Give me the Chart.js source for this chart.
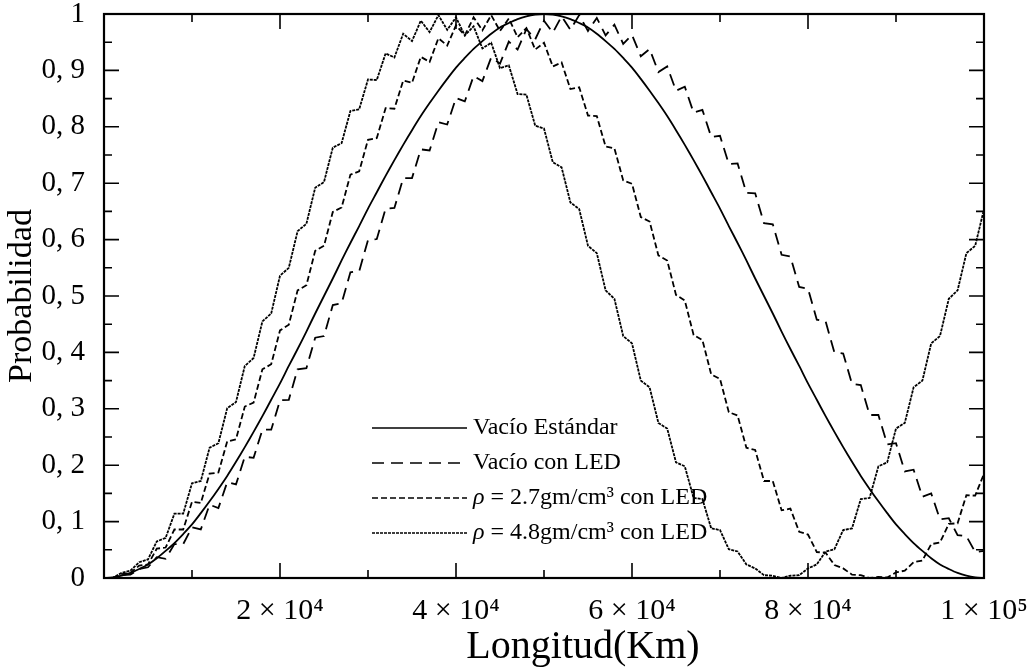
<!DOCTYPE html>
<html>
<head>
<meta charset="utf-8">
<script src="https://cdn.jsdelivr.net/npm/chart.js@4.4.1/dist/chart.umd.min.js"></script>
<style>
html,body{margin:0;padding:0;background:#fff;}
#wrap{width:1034px;height:671px;position:relative;}
</style>
</head>
<body>
<div id="wrap"><canvas id="c" width="1034" height="671"></canvas></div>
<script>
// Longitud (Km)
const xKm = [0,1000,2000,3000,4000,5000,6000,7000,8000,9000,
10000,11000,12000,13000,14000,15000,16000,17000,18000,19000,
20000,21000,22000,23000,24000,25000,26000,27000,28000,29000,
30000,31000,32000,33000,34000,35000,36000,37000,38000,39000,
40000,41000,42000,43000,44000,45000,46000,47000,48000,49000,
50000,51000,52000,53000,54000,55000,56000,57000,58000,59000,
60000,61000,62000,63000,64000,65000,66000,67000,68000,69000,
70000,71000,72000,73000,74000,75000,76000,77000,78000,79000,
80000,81000,82000,83000,84000,85000,86000,87000,88000,89000,
90000,91000,92000,93000,94000,95000,96000,97000,98000,99000,100000];

const vacioEstandar = [0,.001,.004,.009,.016,.024,.035,.048,.062,.078,
.095,.115,.136,.158,.181,.206,.232,.259,.287,.316,
.345,.376,.406,.437,.469,.500,.531,.563,.594,.624,
.655,.684,.713,.741,.768,.794,.819,.842,.864,.885,
.905,.922,.938,.952,.965,.976,.984,.991,.996,.999,
1,.999,.996,.991,.984,.976,.965,.952,.938,.922,
.905,.885,.864,.842,.819,.794,.768,.741,.713,.684,
.655,.624,.594,.563,.531,.500,.469,.437,.406,.376,
.345,.316,.287,.259,.232,.206,.181,.158,.136,.115,
.095,.078,.062,.048,.035,.024,.016,.009,.004,.001,0];

const vacioLED = [0,0,.005,.006,.016,.019,.037,.034,.060,.060,
.090,.086,.130,.124,.170,.166,.215,.213,.263,.263,
.315,.316,.370,.372,.426,.429,.484,.487,.542,.544,
.599,.601,.655,.656,.709,.709,.760,.758,.808,.804,
.851,.845,.890,.881,.923,.912,.951,.937,.973,.955,
.988,.967,.996,.972,.998,.970,.993,.962,.981,.947,
.963,.925,.938,.897,.907,.864,.871,.825,.830,.782,
.784,.734,.735,.683,.682,.629,.627,.573,.570,.516,
.513,.458,.455,.400,.398,.344,.342,.289,.289,.237,
.239,.189,.192,.144,.150,.104,.106,.076,.074,.046,.048];

const rho27LED = [0,0,.007,.009,.022,.024,.052,.054,.086,.086,
.135,.133,.185,.187,.242,.246,.304,.311,.370,.379,
.439,.449,.510,.519,.580,.589,.649,.657,.715,.721,
.777,.780,.833,.832,.882,.878,.924,.915,.957,.944,
.980,.962,.994,.971,.998,.970,.992,.959,.975,.937,
.949,.907,.914,.867,.870,.820,.819,.765,.762,.705,
.699,.640,.632,.572,.563,.502,.492,.431,.422,.361,
.353,.294,.288,.231,.227,.172,.172,.120,.123,.082,
.077,.046,.045,.023,.017,.006,.005,0,.002,.001,
.010,.013,.028,.031,.060,.063,.096,.097,.147,.146,.185];

const rho48LED = [0,0,.009,.013,.028,.033,.065,.071,.114,.114,
.168,.172,.231,.239,.301,.312,.376,.390,.455,.469,
.536,.550,.615,.628,.692,.702,.763,.771,.828,.831,
.884,.883,.930,.923,.965,.952,.988,.968,.998,.972,
.994,.962,.978,.939,.949,.904,.909,.858,.857,.802,
.797,.737,.728,.666,.654,.589,.576,.510,.495,.429,
.416,.350,.338,.275,.265,.205,.198,.142,.140,.088,
.085,.051,.047,.024,.017,.005,.004,0,.004,.005,
.017,.024,.047,.051,.085,.088,.140,.142,.198,.205,
.265,.275,.338,.350,.416,.429,.495,.510,.576,.589,.654];

const seriesNames = ['Vacío Estándar','Vacío con LED','ρ = 2.7gm/cm³ con LED','ρ = 4.8gm/cm³ con LED'];
const yTickLabels = ['0','0, 1','0, 2','0, 3','0, 4','0, 5','0, 6','0, 7','0, 8','0, 9','1'];
const xTickLabels = ['','2 × 10⁴','4 × 10⁴','6 × 10⁴','8 × 10⁴','1 × 10⁵'];
const xTitle = 'Longitud(Km)';
const yTitle = 'Probabilidad';

const FONT = '"Liberation Serif", "DejaVu Serif", serif';
const pts = arr => arr.map((v,i)=>({x:xKm[i], y:v}));

const frameTicks = {
  id:'frameTicks',
  afterDraw(chart){
    const {ctx, chartArea:a, scales:{x,y}} = chart;
    ctx.save();
    ctx.strokeStyle = '#000';
    ctx.lineWidth = 1.6;
    ctx.beginPath();
    for (let k=0;k<=20;k++){
      const v = k*0.05, py = y.getPixelForValue(v);
      const len = (k%2===0)?15:8;
      ctx.moveTo(a.left,py); ctx.lineTo(a.left+len,py);
      ctx.moveTo(a.right,py); ctx.lineTo(a.right-len,py);
    }
    for (let k=0;k<=10;k++){
      const v = k*10000, px = x.getPixelForValue(v);
      const len = (k%2===0)?15:8;
      ctx.moveTo(px,a.bottom); ctx.lineTo(px,a.bottom-len);
      ctx.moveTo(px,a.top); ctx.lineTo(px,a.top+len);
    }
    ctx.stroke();
    ctx.lineWidth = 2.2;
    ctx.strokeRect(a.left,a.top,a.right-a.left,a.bottom-a.top);
    // axis titles
    ctx.fillStyle = '#000';
    ctx.textAlign = 'center';
    ctx.textBaseline = 'middle';
    ctx.font = '40px ' + FONT;
    ctx.fillText(xTitle, 583, 647);
    ctx.font = '34px ' + FONT;
    ctx.translate(22, (a.top+a.bottom)/2);
    ctx.rotate(-Math.PI/2);
    ctx.fillText(yTitle, 0, 0);
    ctx.restore();

    // legend
    ctx.save();
    const rows = [428,463,498,533];
    chart.data.datasets.forEach((ds,i)=>{
      const ry = rows[i];
      ctx.strokeStyle = '#000';
      ctx.lineWidth = 1.4;
      ctx.setLineDash(ds.borderDash || []);
      ctx.beginPath(); ctx.moveTo(372,ry); ctx.lineTo(467,ry); ctx.stroke();
      ctx.setLineDash([]);
      ctx.fillStyle = '#000';
      ctx.textAlign = 'left';
      ctx.textBaseline = 'middle';
      const name = seriesNames[i];
      let tx = 473;
      if (name.startsWith('ρ')) {
        ctx.font = 'italic 24px ' + FONT;
        ctx.fillText('ρ', tx, ry);
        tx += ctx.measureText('ρ').width;
        ctx.font = '24px ' + FONT;
        ctx.fillText(name.slice(1), tx, ry);
      } else {
        ctx.font = '24px ' + FONT;
        ctx.fillText(name, tx, ry);
      }
    });
    ctx.restore();
  }
};

new Chart(document.getElementById('c'), {
  type:'line',
  data:{
    datasets:[
      {label:seriesNames[0], data:pts(vacioEstandar), borderColor:'#000', borderWidth:1.8, borderDash:[], pointRadius:0, tension:0.3},
      {label:seriesNames[1], data:pts(vacioLED), borderColor:'#000', borderWidth:1.8, borderDash:[12,7], pointRadius:0, tension:0},
      {label:seriesNames[2], data:pts(rho27LED), borderColor:'#000', borderWidth:1.8, borderDash:[6,3], pointRadius:0, tension:0},
      {label:seriesNames[3], data:pts(rho48LED), borderColor:'#000', borderWidth:1.8, borderDash:[3,1], pointRadius:0, tension:0}
    ]
  },
  options:{
    responsive:false,
    animation:false,
    layout:{padding:{top:14,right:50,left:0,bottom:0}},
    plugins:{legend:{display:false}, tooltip:{enabled:false}},
    scales:{
      x:{type:'linear', min:0, max:100000,
         grid:{display:false}, border:{display:false},
         ticks:{stepSize:20000, padding:7, color:'#000', font:{family:FONT,size:30}, maxRotation:0,
                callback:(v,i)=>xTickLabels[i]},
         afterFit:s=>{s.height=93; s.paddingLeft=0; s.paddingRight=0;}},
      y:{min:0, max:1,
         grid:{display:false}, border:{display:false},
         ticks:{stepSize:0.1, padding:11, color:'#000', font:{family:FONT,size:29},
                callback:(v,i)=>yTickLabels[i]},
         afterFit:s=>{s.width=104; s.paddingTop=0; s.paddingBottom=0;}}
    }
  },
  plugins:[frameTicks]
});
</script>
</body>
</html>
